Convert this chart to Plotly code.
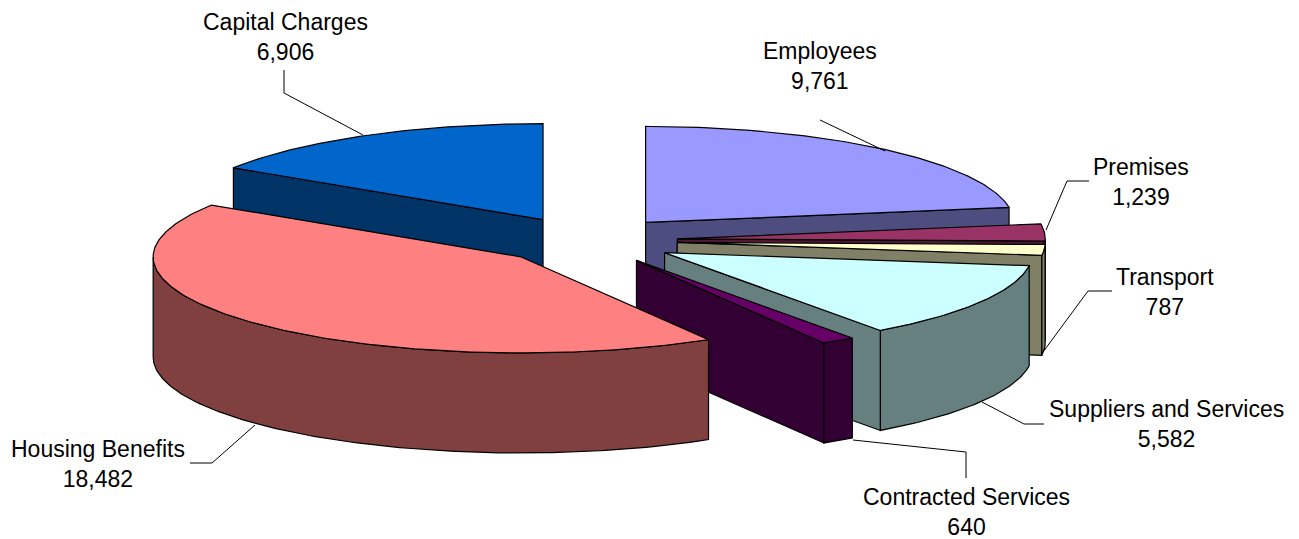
import numpy as np
import plotly.graph_objects as go

categories = ["Employees", "Premises", "Transport", "Suppliers and Services",
              "Contracted Services", "Housing Benefits", "Capital Charges"]
values = [9761, 1239, 787, 5582, 640, 18482, 6906]
top_colors = ["#9999FF", "#993366", "#FFFFCC", "#CCFFFF", "#660066", "#FF8080", "#0066CC"]
wall_colors = ["#4D4D80", "#4D1A33", "#808066", "#668080", "#330033", "#804040", "#003366"]

# projection of the tilted pie, in page pixels
CX, CY, RX, RY = 586.6, 240.5, 368.0, 96.0
DEPTH = 100.0
EXPLODE = 0.247
PAGE_MARGIN = 8  # the browser's default body margin
label_pos = [(820, 66), (1141, 182), (1165, 292), (1166, 424), (966, 512), (98, 464), (285, 37)]
leaders = [
    [(820, 120), (885, 151)],
    [(1089, 181), (1067, 181), (1046, 230)],
    [(1112, 291), (1088, 291), (1043, 352)],
    [(1044, 424), (1024, 424), (982, 402)],
    [(966, 478), (966, 452), (853, 440)],
    [(190, 463), (212, 463), (255, 425)],
    [(284, 70), (284, 93), (363, 135)],
]


def rim(ax, ay, t1, t2):
    n = max(int(abs(t2 - t1) * 1.2) + 2, 3)
    t = np.radians(np.linspace(t1, t2, n))
    return ax + RX * np.sin(t), ay - RY * np.cos(t)


def poly(fig, x, y, color):
    fig.add_trace(go.Scatter(x=np.append(x, x[0]), y=np.append(y, y[0]), mode="lines", fill="toself",
                             fillcolor=color, line=dict(color="black", width=1.2),
                             hoverinfo="skip", showlegend=False))


fig = go.Figure()
total = sum(values)
edges = np.concatenate([[0], np.cumsum(values) / total * 360])

for i in [6, 0, 1, 2, 3, 4, 5]:
    t1, t2 = edges[i], edges[i + 1]
    mid = np.radians((t1 + t2) / 2)
    ax = CX + EXPLODE * RX * np.sin(mid)
    ay = CY - EXPLODE * RY * np.cos(mid)
    # visible cut faces
    for th, visible in ((t1, np.sin(np.radians(t1)) < -1e-6), (t2, np.sin(np.radians(t2)) > 1e-6)):
        if visible:
            ex, ey = rim(ax, ay, th, th)
            ex, ey = ex[0], ey[0]
            poly(fig, np.array([ax, ex, ex, ax]), np.array([ay, ey, ey + DEPTH, ay + DEPTH]), wall_colors[i])
    # visible outer wall (front half of the rim)
    a, b = max(t1, 90), min(t2, 270)
    if b > a:
        rx, ry = rim(ax, ay, a, b)
        poly(fig, np.concatenate([rx, rx[::-1]]), np.concatenate([ry, ry[::-1] + DEPTH]), wall_colors[i])
    # top face
    rx, ry = rim(ax, ay, t1, t2)
    poly(fig, np.concatenate([[ax], rx]), np.concatenate([[ay], ry]), top_colors[i])

for pts in leaders:
    fig.add_trace(go.Scatter(x=[p[0] for p in pts], y=[p[1] for p in pts], mode="lines",
                             line=dict(color="black", width=1), hoverinfo="skip", showlegend=False))

for name, v, (x, y) in zip(categories, values, label_pos):
    fig.add_annotation(x=x, y=y, text=f"{name}<br>{v:,}", showarrow=False, xanchor="center", yanchor="middle",
                       font=dict(family="Liberation Sans", size=23, color="black"), align="center")

fig.update_xaxes(range=[PAGE_MARGIN, 1299], visible=False, fixedrange=True)
fig.update_yaxes(range=[539, PAGE_MARGIN], visible=False, fixedrange=True)
fig.update_layout(width=1299 - PAGE_MARGIN, height=539 - PAGE_MARGIN, margin=dict(l=0, r=0, t=0, b=0),
                  plot_bgcolor="white", paper_bgcolor="white", showlegend=False)
fig.write_html("out.html", config={"displayModeBar": False})
